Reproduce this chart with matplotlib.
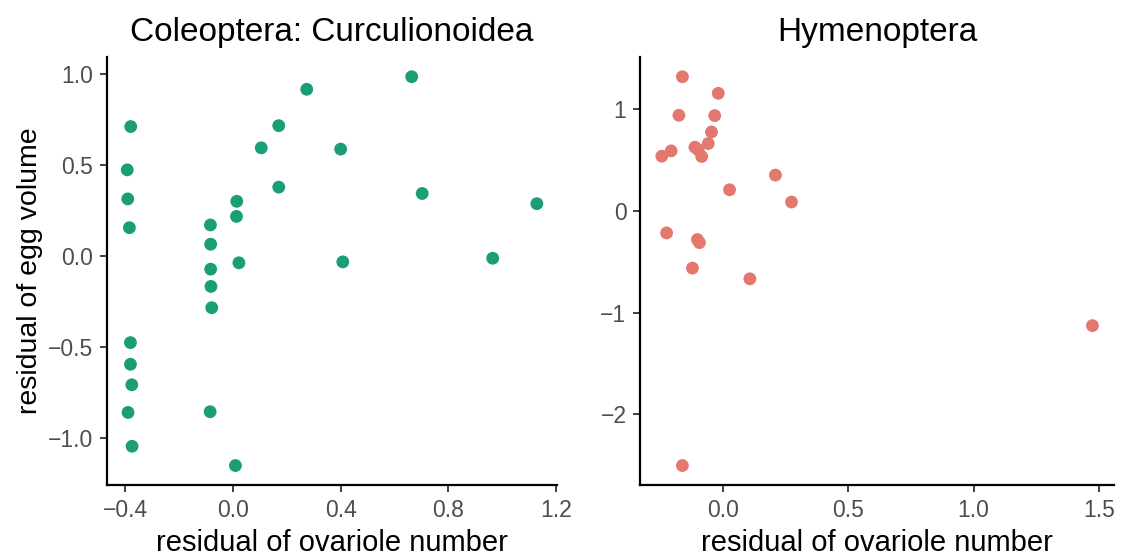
import matplotlib
matplotlib.use("Agg")
import matplotlib.pyplot as plt
import numpy as np

# Coleoptera: Curculionoidea residuals
col_x = [0.664, 0.274, -0.380, 0.170, 0.105, 0.400, -0.393, -0.391, 0.170, 0.703,
         1.129, 0.014, 0.013, -0.385, -0.084, -0.083, 0.022, 0.408, 0.965, -0.083,
         -0.082, -0.079, -0.381, -0.381, -0.376, -0.390, -0.085, -0.375, 0.009]
col_y = [0.987, 0.918, 0.713, 0.718, 0.596, 0.589, 0.475, 0.315, 0.380, 0.345,
         0.289, 0.302, 0.219, 0.157, 0.172, 0.066, -0.036, -0.031, -0.011, -0.071,
         -0.166, -0.283, -0.475, -0.594, -0.707, -0.859, -0.855, -1.045, -1.151]

# Hymenoptera residuals
hym_x = [-0.161, -0.018, -0.175, -0.032, -0.045, -0.058, -0.243, -0.206, -0.111, -0.098,
         -0.084, 0.210, 0.027, 0.274, -0.224, -0.101, -0.093, -0.121, 0.108, 1.474, -0.161]
hym_y = [1.320, 1.157, 0.941, 0.938, 0.777, 0.663, 0.539, 0.591, 0.627, 0.601,
         0.536, 0.353, 0.209, 0.088, -0.216, -0.281, -0.311, -0.562, -0.667, -1.127, -2.503]

col_xticks = [-0.4, 0.0, 0.4, 0.8, 1.2]
col_yticks = [-1.0, -0.5, 0.0, 0.5, 1.0]
hym_xticks = [0.0, 0.5, 1.0, 1.5]
hym_yticks = [-2, -1, 0, 1]

plt.rcParams['font.family'] = ['Liberation Sans', 'DejaVu Sans']

fig = plt.figure(figsize=(11.43, 5.59), dpi=100)
ax1 = fig.add_axes([0.0934, 0.1324, 0.3942, 0.7651])
ax2 = fig.add_axes([0.5602, 0.1324, 0.4144, 0.7651])


def expand(v, frac=0.05):
    # ggplot style 5% padding
    lo, hi = min(v), max(v)
    pad = (hi - lo) * frac
    return lo - pad, hi + pad


minus = lambda s: s.replace('-', '\u2212')

ax1.scatter(col_x, col_y, s=85, color='#1B9E77', edgecolors='none', zorder=3)
ax1.set_xlim(*expand(col_x))
ax1.set_ylim(*expand(col_y))
ax1.set_xticks(col_xticks)
ax1.set_yticks(col_yticks)
ax1.set_xticklabels([minus(f"{t:.1f}") for t in col_xticks])
ax1.set_yticklabels([minus(f"{t:.1f}") for t in col_yticks])

ax2.scatter(hym_x, hym_y, s=85, color='#E4786E', edgecolors='none', zorder=3)
ax2.set_xlim(*expand(hym_x))
ax2.set_ylim(*expand(hym_y))
ax2.set_xticks(hym_xticks)
ax2.set_yticks(hym_yticks)
ax2.set_xticklabels([f"{t:.1f}" for t in hym_xticks])
ax2.set_yticklabels([minus(f"{t:g}") for t in hym_yticks])

for ax, title in [(ax1, 'Coleoptera: Curculionoidea'), (ax2, 'Hymenoptera')]:
    ax.set_title(title, fontsize=24, pad=12)
    ax.spines['top'].set_visible(False)
    ax.spines['right'].set_visible(False)
    for s in ['left', 'bottom']:
        ax.spines[s].set_linewidth(1.6)
    ax.tick_params(axis='both', length=5, width=1.3, color='#333333',
                   labelcolor='#4D4D4D', labelsize=16.5, pad=5)
    ax.set_xlabel('residual of ovariole number', fontsize=21, labelpad=5)

ax1.set_ylabel('residual of egg volume', fontsize=20.5, labelpad=3)

fig.savefig('out.png', dpi=100)
